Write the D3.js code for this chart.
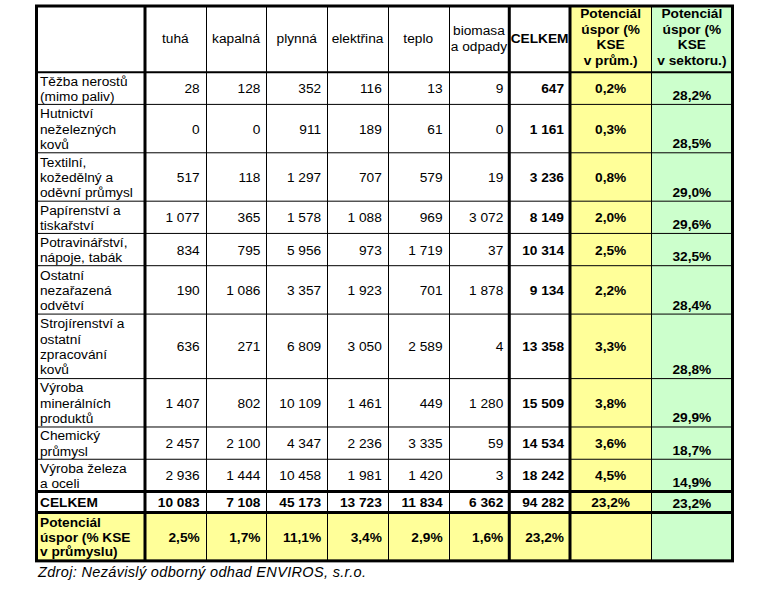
<!DOCTYPE html>
<html><head><meta charset="utf-8">
<script src="https://cdn.jsdelivr.net/npm/d3@7"></script>
<style>html,body{margin:0;padding:0;background:#fff;} svg{display:block;font-family:"Liberation Sans", Arial, sans-serif;}</style>
</head><body><svg id="c" width="759" height="590"></svg>
<script>
// ---------- DATA ----------
const categories = ["Těžba nerostů\n(mimo paliv)", "Hutnictví\nneželezných\nkovů", "Textilní,\nkožedělný a\noděvní průmysl", "Papírenství a\ntiskařství", "Potravinářství,\nnápoje, tabák", "Ostatní\nnezařazená\nodvětví", "Strojírenství a\nostatní\nzpracování\nkovů", "Výroba\nminerálních\nproduktů", "Chemický\nprůmysl", "Výroba železa\na oceli"];
const columns = ["tuhá", "kapalná", "plynná", "elektřina", "teplo", "biomasa\na odpady", "CELKEM"];
const pctColumns = ["Potenciál\núspor (%\nKSE\nv prům.)", "Potenciál\núspor (%\nKSE\nv sektoru.)"];
const tuha = [28, 0, 517, 1077, 834, 190, 636, 1407, 2457, 2936];
const kapalna = [128, 0, 118, 365, 795, 1086, 271, 802, 2100, 1444];
const plynna = [352, 911, 1297, 1578, 5956, 3357, 6809, 10109, 4347, 10458];
const elektrina = [116, 189, 707, 1088, 973, 1923, 3050, 1461, 2236, 1981];
const teplo = [13, 61, 579, 969, 1719, 701, 2589, 449, 3335, 1420];
const biomasa = [9, 0, 19, 3072, 37, 1878, 4, 1280, 59, 3];
const celkem = [647, 1161, 3236, 8149, 10314, 9134, 13358, 15509, 14534, 18242];
const potencialPrum = [0.2, 0.3, 0.8, 2.0, 2.5, 2.2, 3.3, 3.8, 3.6, 4.5];
const potencialSektor = [28.2, 28.5, 29.0, 29.6, 32.5, 28.4, 28.8, 29.9, 18.7, 14.9];
const totalsLabel = "CELKEM";
const totals = [10083, 7108, 45173, 13723, 11834, 6362, 94282];
const totalPrum = 23.2;
const totalSektor = 23.2;
const potencialLabel = "Potenciál\núspor (% KSE\nv průmyslu)";
const potencialColumns = [2.5, 1.7, 11.1, 3.4, 2.9, 1.6, 23.2];
const sourceText = "Zdroj: Nezávislý odborný odhad ENVIROS, s.r.o.";

// ---------- LAYOUT ----------
const series = [tuha, kapalna, plynna, elektrina, teplo, biomasa, celkem];
const FS = 13.7, LINE = 16.13, TLH = 15.3;
const YELLOW = "#ffff99", GREEN = "#ccffcc";
const loc = d3.formatLocale({decimal: ",", thousands: " ", grouping: [3], currency: ["", ""]});
const fNum = loc.format(",d");
const fPct = v => loc.format(".1f")(v) + "%";

const svg = d3.select("#c");
const units = [4.1, ...categories.map(c => c.split("\n").length), 1.3, 3];
const cum = [0]; units.forEach(u => cum.push(cum[cum.length - 1] + u));
const y = d3.scaleLinear().domain([0, cum[cum.length - 1]]).range([6, 6 + cum[cum.length - 1] * LINE]);
const rowTop = r => y(cum[r]), rowBot = r => y(cum[r + 1]), rowMid = r => (rowTop(r) + rowBot(r)) / 2;
const nRows = units.length;
const X0 = 36.5, XL = 145;
const xNum = d3.scaleBand().domain(d3.range(columns.length)).range([XL, 570]);
const xPct = d3.scaleBand().domain([0, 1]).range([570, 732.5]);
const X1 = xPct.range()[1];

// backgrounds
const gBg = svg.append("g");
for (let r = 0; r < nRows; r++) {
  const isPot = r === nRows - 1;
  const h = rowBot(r) - rowTop(r);
  gBg.append("rect").attr("x", X0).attr("y", rowTop(r)).attr("width", XL - X0).attr("height", h).attr("fill", isPot ? YELLOW : "#fff");
  columns.forEach((c, i) => gBg.append("rect").attr("x", xNum(i)).attr("y", rowTop(r)).attr("width", xNum.bandwidth()).attr("height", h).attr("fill", isPot ? YELLOW : "#fff"));
  gBg.append("rect").attr("x", xPct(0)).attr("y", rowTop(r)).attr("width", xPct.bandwidth()).attr("height", h).attr("fill", YELLOW);
  gBg.append("rect").attr("x", xPct(1)).attr("y", rowTop(r)).attr("width", xPct.bandwidth()).attr("height", h).attr("fill", GREEN);
}

// text helper
const gT = svg.append("g").attr("font-size", FS).attr("fill", "#000");
function txt(str, x, cy, anchor, bold, lh = TLH, off = 5) {
  const lines = str.split("\n"), n = lines.length;
  const t = gT.append("text").attr("text-anchor", anchor).attr("font-weight", bold ? "bold" : "normal");
  lines.forEach((l, k) => t.append("tspan").attr("x", x).attr("y", cy + (k - (n - 1) / 2) * lh + off).text(l));
  return t;
}

// header
columns.forEach((c, i) => txt(c, xNum(i) + xNum.bandwidth() / 2, rowMid(0), "middle", c === "CELKEM", 16, 4));
pctColumns.forEach((c, i) => txt(c, xPct(i) + xPct.bandwidth() / 2, rowMid(0), "middle", true, 15.6, 2.5));

// data rows
categories.forEach((cat, j) => {
  const r = j + 1;
  txt(cat, 40, rowMid(r), "start", false);
  series.forEach((s, i) => txt(fNum(s[j]), xNum(i) + xNum.bandwidth() - 6, rowMid(r), "end", i === series.length - 1));
  txt(fPct(potencialPrum[j]), xPct(0) + xPct.bandwidth() / 2, rowMid(r), "middle", true);
  txt(fPct(potencialSektor[j]), xPct(1) + xPct.bandwidth() / 2, rowBot(r) - 4.5, "middle", true, TLH, 0);
});

// totals row
const rT = nRows - 2;
txt(totalsLabel, 40, rowMid(rT), "start", true);
totals.forEach((v, i) => txt(fNum(v), xNum(i) + xNum.bandwidth() - 6, rowMid(rT), "end", true));
txt(fPct(totalPrum), xPct(0) + xPct.bandwidth() / 2, rowMid(rT), "middle", true);
txt(fPct(totalSektor), xPct(1) + xPct.bandwidth() / 2, rowBot(rT) - 4.5, "middle", true, TLH, 0);

// potential row
const rP = nRows - 1;
txt(potencialLabel, 40, rowMid(rP), "start", true, 14.7);
potencialColumns.forEach((v, i) => txt(fPct(v), xNum(i) + xNum.bandwidth() - 6, rowMid(rP), "end", true));

// grid lines
const gL = svg.append("g").attr("stroke", "#000");
const yTop = rowTop(0), yBot = rowBot(nRows - 1);
for (let r = 1; r < nRows - 2; r++) {
  gL.append("line").attr("x1", X0).attr("x2", X1).attr("y1", rowBot(r)).attr("y2", rowBot(r)).attr("stroke-width", 1);
}
gL.append("line").attr("x1", X0).attr("x2", X1).attr("y1", rowBot(0)).attr("y2", rowBot(0)).attr("stroke-width", 2);
[rT - 1, rT].forEach(r => gL.append("line").attr("x1", X0).attr("x2", X1).attr("y1", rowBot(r)).attr("y2", rowBot(r)).attr("stroke-width", 3));
for (let i = 1; i < columns.length - 1; i++) {
  const x = Math.round(xNum(i)) + 0.5;
  gL.append("line").attr("x1", x).attr("x2", x).attr("y1", yTop).attr("y2", yBot).attr("stroke-width", 1);
}
gL.append("line").attr("x1", Math.round(xPct(1)) + 0.5).attr("x2", Math.round(xPct(1)) + 0.5).attr("y1", yTop).attr("y2", yBot).attr("stroke-width", 1);
[XL, xNum(columns.length - 1), xPct(0)].forEach(x => gL.append("line").attr("x1", x).attr("x2", x).attr("y1", yTop).attr("y2", yBot).attr("stroke-width", 3));
gL.append("rect").attr("x", X0).attr("y", yTop).attr("width", X1 - X0).attr("height", yBot - yTop).attr("fill", "none").attr("stroke-width", 3);

// source
svg.append("text").attr("x", 38).attr("y", 577).attr("font-size", 14.5).attr("font-style", "italic")
  .attr("textLength", 328).attr("lengthAdjust", "spacing").text(sourceText);
</script></body></html>
